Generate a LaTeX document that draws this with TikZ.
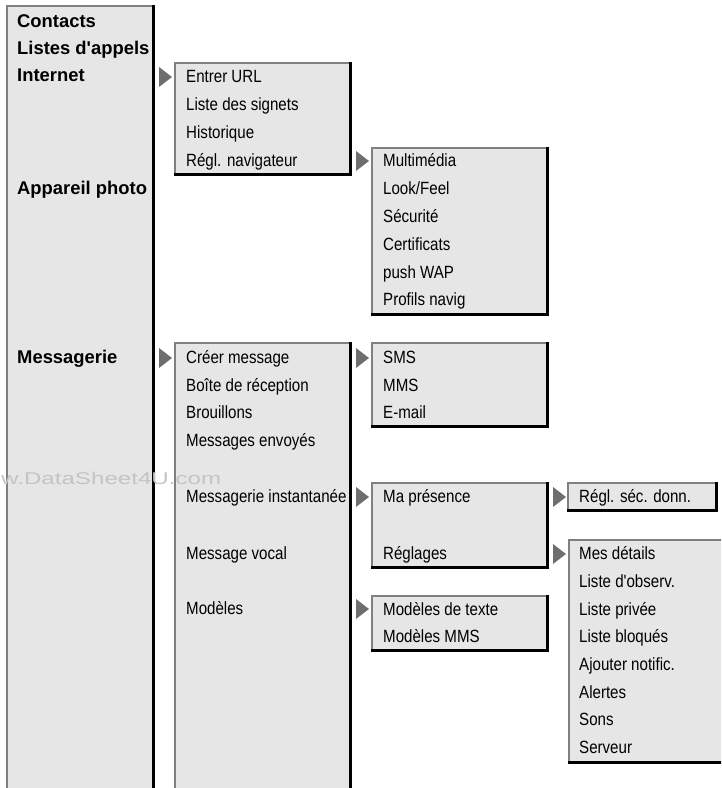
\documentclass[tikz,border=0pt]{standalone}
\usepackage{fontspec}
\setmainfont{Liberation Sans}
\newfontfamily\narrowfont[FakeStretch=0.853]{Liberation Sans}
\definecolor{boxfill}{HTML}{E6E6E6}
\definecolor{edgegray}{HTML}{808080}
\definecolor{trigray}{HTML}{6E6E6E}
\definecolor{wmgray}{HTML}{C4C4C4}
\newcommand{\menupanel}[4]{%
  \fill[boxfill] (#1,#2) rectangle (#3,#4);
  \draw[edgegray, line width=2pt] (#1+1,#4) -- (#1+1,#2+1) -- (#3-2,#2+1);
  \draw[black, line width=3pt] (#3-1.5,#2) -- (#3-1.5,#4-1.5) -- (#1,#4-1.5);
}
\newcommand{\menutri}[2]{%
  \fill[trigray] (#1,#2-10) -- (#1+13,#2) -- (#1,#2+10) -- cycle;
}
\tikzset{
  top/.style={anchor=base west, inner sep=0pt, font=\fontsize{18.4}{20}\selectfont\bfseries},
  itm/.style={anchor=base west, inner sep=0pt, font=\fontsize{17.7}{20}\selectfont\narrowfont},
}
\begin{document}
\begin{tikzpicture}[x=1pt, y=-1pt]
\path[use as bounding box] (0,0) rectangle (721,788);
\clip (0,0) rectangle (721,788);

% panels
\menupanel{6}{5}{155}{800}
\menupanel{174}{62}{352}{176}
\menupanel{371}{147}{549}{316}
\menupanel{174}{342}{352}{800}
\menupanel{371}{342}{549}{428}
\menupanel{371}{482}{549}{569}
\menupanel{567}{482}{718}{512}
\menupanel{568}{539}{740}{764}
\menupanel{371}{595}{549}{652}

% level 1
\node[top] (contacts) at (17,27) {Contacts};
\node[top] (appels) at (17,54.5) {Listes d\textquotesingle appels};
\node[top] (internet) at (17,81.5) {Internet};
\node[top] (photo) at (17,194.5) {Appareil photo};
\node[top] (messagerie) at (17,363.5) {Messagerie};

% Internet submenu
\node[itm] (url) at (186,82.5) {Entrer URL};
\node[itm] (signets) at (186,110.5) {Liste des signets};
\node[itm] (histo) at (186,138.5) {Historique};
\node[itm] (reglnav) at (186,166.5) {Régl. navigateur};

% navigateur submenu
\node[itm] (multi) at (383,166.5) {Multimédia};
\node[itm] (look) at (383,194.5) {Look/Feel};
\node[itm] (secu) at (383,222.5) {Sécurité};
\node[itm] (certif) at (383,250) {Certificats};
\node[itm] (push) at (383,278) {push WAP};
\node[itm] (profils) at (383,305.5) {Profils navig};

% Messagerie submenu
\node[itm] (creer) at (186,363.5) {Créer message};
\node[itm] (boite) at (186,391) {Boîte de réception};
\node[itm] (brouil) at (186,418.5) {Brouillons};
\node[itm] (envoyes) at (186,446.5) {Messages envoyés};
\node[itm] (inst) at (186,502.5) {Messagerie instantanée};
\node[itm] (vocal) at (186,559.5) {Message vocal};
\node[itm] (modeles) at (186,614.5) {Modèles};

% Créer message submenu
\node[itm] (sms) at (383,363.5) {SMS};
\node[itm] (mms) at (383,391) {MMS};
\node[itm] (email) at (383,418.5) {E-mail};

% instantanée submenu
\node[itm] (presence) at (383,502.5) {Ma présence};
\node[itm] (reglages) at (383,559.5) {Réglages};
\node[itm] (secdonn) at (579,502.5) {Régl. séc. donn.};

% Réglages submenu
\node[itm] (details) at (579,559.5) {Mes détails};
\node[itm] (observ) at (579,587) {Liste d'observ.};
\node[itm] (privee) at (579,615) {Liste privée};
\node[itm] (bloques) at (579,642.5) {Liste bloqués};
\node[itm] (notif) at (579,670) {Ajouter notific.};
\node[itm] (alertes) at (579,698) {Alertes};
\node[itm] (sons) at (579,725.5) {Sons};
\node[itm] (serveur) at (579,753) {Serveur};

% Modèles submenu
\node[itm] (texte) at (383,615) {Modèles de texte};
\node[itm] (mmsmod) at (383,642.5) {Modèles MMS};

% triangles
\menutri{159}{77}
\menutri{159}{358}
\menutri{356}{161}
\menutri{356}{358}
\menutri{356}{497}
\menutri{356}{609}
\menutri{553}{497}
\menutri{553}{554}

% watermark
\node[anchor=base west, inner sep=0pt, text=wmgray, font=\fontsize{17}{20}\selectfont] (wm) at (1,484) {\scalebox{1.42}[1]{w.DataSheet4U.com}};
\end{tikzpicture}
\end{document}
